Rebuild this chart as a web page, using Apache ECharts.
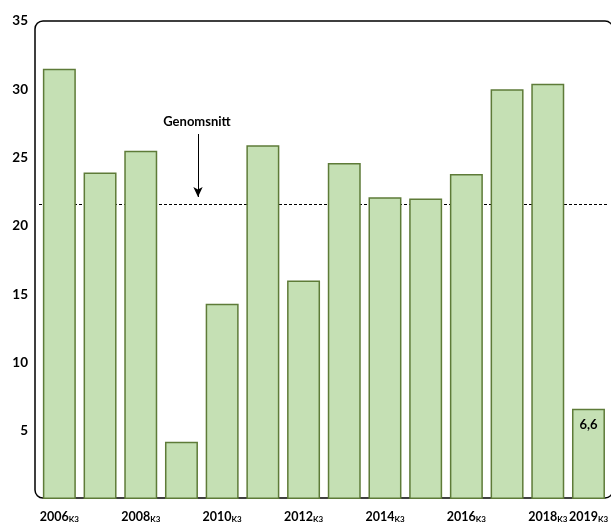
<!DOCTYPE html>
<html><head><meta charset="utf-8">
<script src="https://cdn.jsdelivr.net/npm/echarts@6/dist/echarts.min.js"></script>
<style>html,body{margin:0;background:#fff}#c{width:611px;height:524px}</style>
</head><body><div id="c"></div>
<script>
const years = ['2006','2007','2008','2009','2010','2011','2012','2013','2014','2015','2016','2017','2018','2019'];
const yearSuffix = 'K3';
const values = [31.5, 23.9, 25.5, 4.2, 14.3, 25.9, 16.0, 24.6, 22.1, 22.0, 23.8, 30.0, 30.4, 6.6];
const average = 21.6;
const averageLabel = 'Genomsnitt';
const labeledIndex = 13;
const yMin = 0, yMax = 35, yStep = 5;

const FONT = 'Lato';
const chart = echarts.init(document.getElementById('c'));
const barData = values.map((v, i) => i === labeledIndex ? { value: v, label: { show: true } } : v);

chart.setOption({
  backgroundColor: '#fff',
  animation: false,
  grid: { left: 39, right: 1, top: 21, bottom: 25 },
  xAxis: {
    type: 'category',
    data: years,
    axisLine: { show: false },
    axisTick: { show: false },
    axisLabel: {
      interval: (i) => i % 2 === 0 || i === years.length - 1,
      margin: 11,
      formatter: (v) => '{y|' + v + '}{s|' + yearSuffix + '}',
      rich: {
        y: { fontFamily: FONT, fontWeight: 'bold', fontSize: 12.5, color: '#000' },
        s: { fontFamily: FONT, fontWeight: 'bold', fontSize: 8, color: '#000', padding: [5, 0, 0, 0] }
      }
    }
  },
  yAxis: {
    type: 'value',
    min: yMin, max: yMax, interval: yStep,
    axisLine: { show: false },
    axisTick: { show: false },
    splitLine: { show: false },
    axisLabel: {
      margin: 11,
      fontFamily: FONT, fontWeight: 'bold', fontSize: 13.5, color: '#000',
      formatter: (v) => v === 0 ? '' : String(v)
    }
  },
  graphic: [
    { type: 'rect', z: 0, shape: { x: 35, y: 21, width: 578, height: 477, r: 8 },
      style: { fill: 'none', stroke: '#000', lineWidth: 1.5 } },
    { type: 'text', z: 10, style: { text: averageLabel, x: 197, y: 122, textAlign: 'center', textVerticalAlign: 'middle',
      fontFamily: FONT, fontWeight: 'bold', fontSize: 13, fill: '#000' } }
  ],
  series: [
    {
      type: 'line', data: [], z: 1,
      markLine: {
        z: 1,
        silent: true,
        symbol: 'none',
        label: { show: false },
        lineStyle: { color: '#000', width: 1.2, type: [3, 2] },
        data: [
          { yAxis: average },
          [
            { x: 198, y: 134, symbol: 'none', lineStyle: { type: 'solid', width: 1, color: '#000' } },
            { x: 198, y: 197, symbol: 'arrow', symbolSize: [7, 10] }
          ]
        ]
      }
    },
    {
      type: 'bar', z: 2,
      data: barData,
      barCategoryGap: '19%',
      itemStyle: { color: '#c5e0b4', borderColor: '#5e7b38', borderWidth: 1.5 },
      label: {
        show: false, position: 'insideTop', distance: 9,
        fontFamily: FONT, fontWeight: 'bold', fontSize: 13, color: '#000',
        formatter: (p) => String(p.value).replace('.', ',')
      }
    }
  ]
});
</script></body></html>
